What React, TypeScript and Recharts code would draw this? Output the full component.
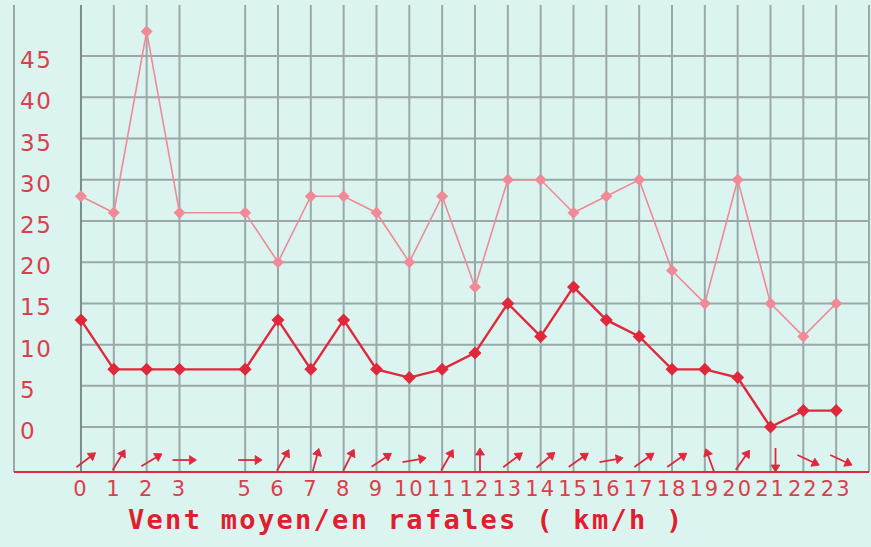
import React from "react";
import {
  ComposedChart,
  Line,
  Scatter,
  XAxis,
  YAxis,
  CartesianGrid,
  ReferenceLine,
} from "recharts";

const hours = [0, 1, 2, 3, 5, 6, 7, 8, 9, 10, 11, 12, 13, 14, 15, 16, 17, 18, 19, 20, 21, 22, 23];
const gusts = [28, 26, 48, 26, 26, 20, 28, 28, 26, 20, 28, 17, 30, 30, 26, 28, 30, 19, 15, 30, 15, 11, 15];
const meanWind = [13, 7, 7, 7, 7, 13, 7, 13, 7, 6, 7, 9, 15, 11, 17, 13, 11, 7, 7, 6, 0, 2, 2];
// direction the arrow points to, degrees clockwise from north
const arrowDir = [53, 31, 59, 90, 90, 30, 15, 27, 56, 80, 30, 0, 53, 50, 55, 80, 55, 55, 340, 35, 180, 115, 115];
const yTicks = [0, 5, 10, 15, 20, 25, 30, 35, 40, 45];
const arrowRow = -4;

const data = hours.map((h, i) => ({
  h,
  gust: gusts[i],
  mean: meanWind[i],
  dir: arrowDir[i],
  arrow: arrowRow,
}));

const RED = "#e0283c";
const PINK = "#f08a96";
const GRID = "#9aa8a8";

const Diamond = (color: string, r: number) => (props: any) => {
  const { cx, cy } = props;
  if (cx == null || cy == null) return null;
  return (
    <polygon
      key={`d-${cx}-${cy}`}
      points={`${cx},${cy - r} ${cx + r},${cy} ${cx},${cy + r} ${cx - r},${cy}`}
      fill={color}
      stroke="none"
    />
  );
};

const Arrow = (props: any) => {
  const { cx, cy, payload } = props;
  if (cx == null || cy == null) return null;
  const a = payload.dir;
  const x = cx + 5;
  const y = cy;
  return (
    <g transform={`rotate(${a}, ${x}, ${y})`}>
      <line x1={x} y1={y + 12} x2={x} y2={y - 7} stroke={RED} strokeWidth={1.8} />
      <polygon
        points={`${x - 4.5},${y - 5} ${x},${y - 12} ${x + 4.5},${y - 5}`}
        fill={RED}
        stroke={RED}
        strokeWidth={0.8}
      />
    </g>
  );
};

const YTick = (props: any) => {
  const { y, payload } = props;
  return (
    <text
      x={20}
      y={y + 12}
      textAnchor="start"
      fill="#d8404c"
      fontFamily="DejaVu Sans"
      fontSize={23}
      letterSpacing={1.5}
    >
      {payload.value}
    </text>
  );
};

const XTick = (props: any) => {
  const { x, y, payload } = props;
  return (
    <text
      x={x}
      y={y + 16}
      textAnchor="middle"
      fill="#d8404c"
      fontFamily="DejaVu Sans"
      fontSize={21}
      letterSpacing={2}
    >
      {payload.value}
    </text>
  );
};

export default function App() {
  return (
    <div
      style={{
        position: "absolute",
        left: 0,
        top: 0,
        width: 871,
        height: 547,
        background: "#dcf4f0",
      }}
    >
      <ComposedChart
        width={871}
        height={547}
        data={data}
        margin={{ top: 5, right: 2, bottom: 0, left: 0 }}
      >
        <CartesianGrid horizontal={false} vertical={true} stroke={GRID} strokeWidth={2} />
        {yTicks.map((v) => (
          <ReferenceLine
            key={`h${v}`}
            segment={[
              { x: 0, y: v },
              { x: 24, y: v },
            ]}
            stroke={GRID}
            strokeWidth={2}
            ifOverflow="visible"
          />
        ))}
        <ReferenceLine x={0} stroke="#7d8c8c" strokeWidth={2} />
        <XAxis
          dataKey="h"
          type="number"
          domain={[-2.04, 24]}
          ticks={hours}
          interval={0}
          height={75}
          axisLine={{ stroke: RED, strokeWidth: 2 }}
          tickLine={false}
          tick={<XTick />}
        />
        <YAxis
          type="number"
          domain={[-5.45, 51.2]}
          ticks={yTicks}
          interval={0}
          width={14}
          axisLine={false}
          tickLine={false}
          tick={<YTick />}
        />
        <Line
          dataKey="gust"
          stroke={PINK}
          strokeWidth={1.6}
          dot={Diamond(PINK, 6)}
          activeDot={false}
          isAnimationActive={false}
        />
        <Line
          dataKey="mean"
          stroke={RED}
          strokeWidth={2.4}
          dot={Diamond(RED, 6.5)}
          activeDot={false}
          isAnimationActive={false}
        />
        <Scatter dataKey="arrow" shape={<Arrow />} isAnimationActive={false} />
      </ComposedChart>
      <div
        style={{
          position: "absolute",
          left: 128,
          top: 503,
          fontFamily: "DejaVu Sans Mono",
          fontWeight: "bold",
          fontSize: 27,
          letterSpacing: 2.3,
          color: "#e01e30",
          whiteSpace: "pre",
          lineHeight: "34px",
        }}
      >
        Vent moyen/en rafales ( km/h )
      </div>
    </div>
  );
}
